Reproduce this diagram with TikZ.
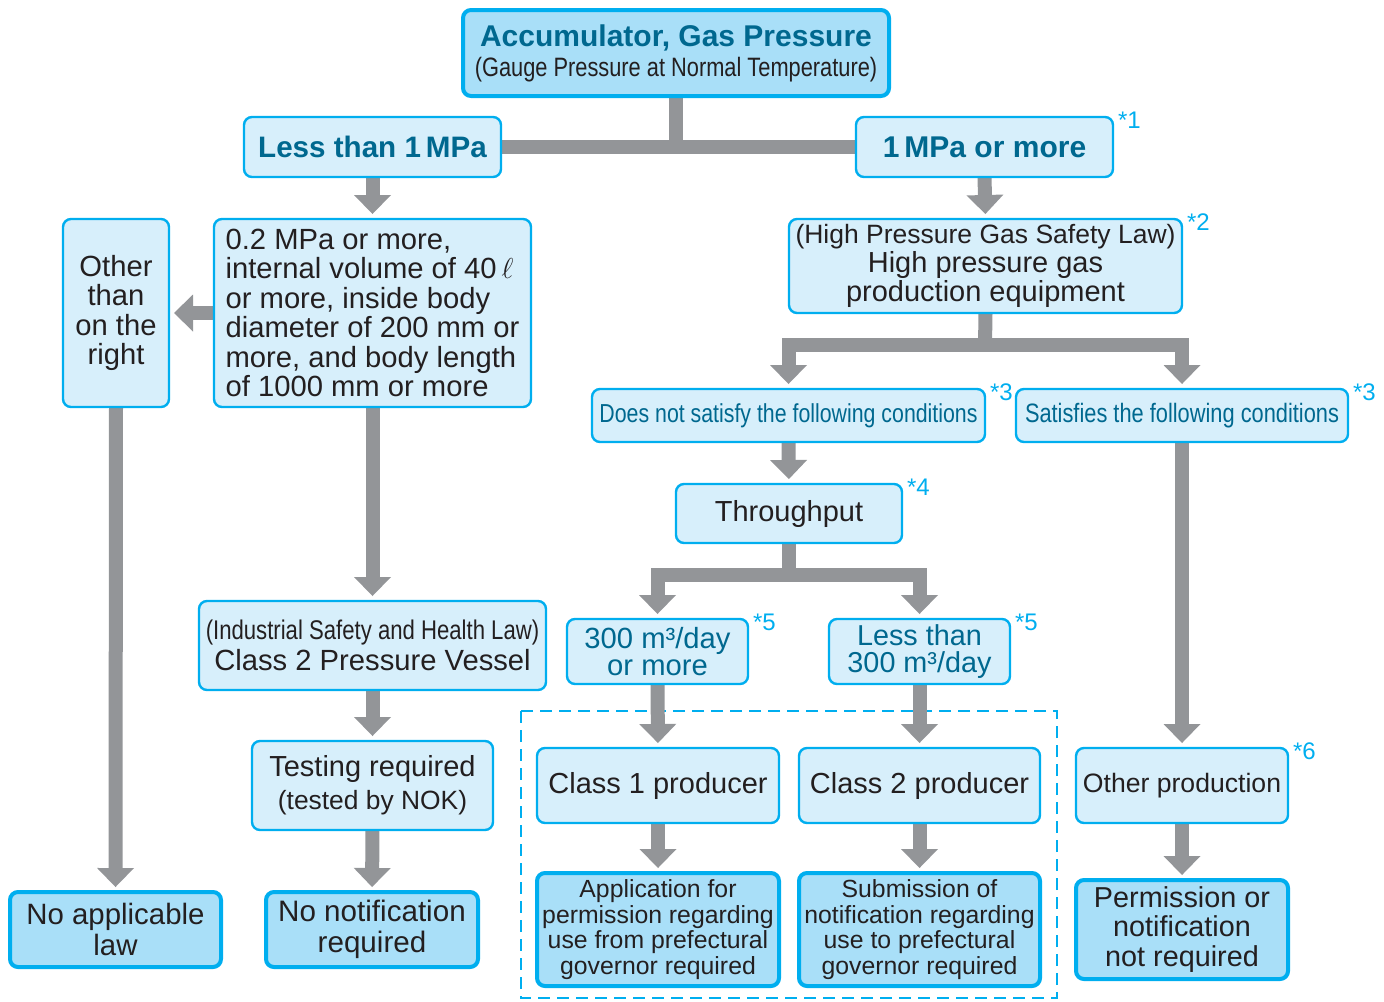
\documentclass[tikz,border=0pt]{standalone}
\usepackage{fontspec}
\setmainfont{Liberation Sans}
\newfontfamily\condfont[FakeStretch=0.82]{Liberation Sans}
\usetikzlibrary{arrows.meta,backgrounds}
\definecolor{cCyan}{HTML}{00AEEF}
\definecolor{cPale}{HTML}{D7EFFB}
\definecolor{cSky} {HTML}{A9DFF8}
\definecolor{cTeal}{HTML}{00688F}
\definecolor{cInk} {HTML}{231F20}
\definecolor{cGray}{HTML}{939598}
\tikzset{
  box/.style   ={draw=cCyan,fill=cPale,line width=1.2pt,rounded corners=4pt,
                 inner sep=0pt,align=center,text=cInk,
                 font=\fontsize{14.6}{14.7}\selectfont},
  endbox/.style={box,fill=cSky,line width=2pt},
  key/.style   ={text=cTeal},
  star/.style  ={text=cCyan,font=\fontsize{12}{12}\selectfont,inner sep=0pt,
                 anchor=north west},
  go/.style    ={draw=cGray,line width=7pt,shorten >=2.5pt,
                 -{Triangle[length=9.5pt,width=18.5pt,line width=0pt]}},
  bar/.style   ={draw=cGray,line width=7pt},
  grp/.style   ={draw=cCyan,line width=1pt,dash pattern=on 6pt off 3.5pt},
}

\begin{document}
\begin{tikzpicture}[x=0.5pt,y=0.5pt,every node/.style={outer sep=0pt}]
\useasboundingbox (0,0) rectangle (1384,-1001);

\node[endbox,minimum width=213pt,minimum height=43pt,font=\condfont\fontsize{13.3}{15}\selectfont]
  (acc) at (676,-53)
  {{\rmfamily\fontsize{15}{15}\selectfont\bfseries\color{cTeal}Accumulator, Gas Pressure}\\
   (Gauge Pressure at Normal Temperature)};

\node[box,key,minimum width=128.5pt,minimum height=30pt,font=\fontsize{14.8}{15}\selectfont\bfseries]
  (lt1) at (372.5,-147) {Less than 1\,MPa};
\node[box,key,minimum width=128.5pt,minimum height=30pt,font=\fontsize{15}{15}\selectfont\bfseries]
  (ge1) at (984.5,-147) {1\,MPa or more};
\node[star] (s1) at ([shift={(2.5pt,2.5pt)}]ge1.north east) {*1};

% left branch: pressure vessel rules
\node[box,minimum width=53pt,minimum height=94pt] (oth) at (116,-313)
  {Other\\than\\on the\\right};
\node[box,align=left,minimum width=158.5pt,minimum height=94pt] (cnd) at (372.5,-313)
  {0.2 MPa or more,\\internal volume of 40\,$\ell$\\or more, inside body\\
   diameter of 200 mm or\\more, and body length\\of 1000 mm or more};
\node[box,minimum width=173.5pt,minimum height=44.5pt,font=\fontsize{14.6}{15.5}\selectfont]
  (isl) at (372.5,-645.5)
  {{\condfont\fontsize{13.5}{15}\selectfont(Industrial Safety and Health Law)}\\
   Class 2 Pressure Vessel};
\node[box,minimum width=120.5pt,minimum height=44.5pt,font=\fontsize{14.5}{16.5}\selectfont]
  (tst) at (372.5,-785.5)
  {Testing required\\{\fontsize{13.2}{14}\selectfont(tested by NOK)}};
\node[endbox,minimum width=106pt,minimum height=37.5pt,font=\fontsize{14.8}{15.5}\selectfont]
  (nonote) at (372,-929.5) {No notification\\required};
\node[endbox,minimum width=105.5pt,minimum height=37.5pt,font=\fontsize{14.7}{15.5}\selectfont]
  (nolaw) at (115.5,-929.5) {No applicable\\law};

% right branch: high pressure gas rules
\node[box,minimum width=196.5pt,minimum height=47pt,font=\fontsize{14.5}{14.5}\selectfont]
  (hpg) at (985.5,-266)
  {{\fontsize{13.25}{14}\selectfont(High Pressure Gas Safety Law)}\\
   High pressure gas\\production equipment};
\node[star] (s2) at ([shift={(2.5pt,2.5pt)}]hpg.north east) {*2};
\node[box,key,minimum width=196.5pt,minimum height=26.5pt,font=\condfont\fontsize{13}{14}\selectfont]
  (dns) at (788.5,-415.5) {Does not satisfy the following conditions};
\node[star] (s3a) at ([shift={(2.5pt,2.5pt)}]dns.north east) {*3};
\node[box,key,minimum width=166pt,minimum height=26.5pt,font=\condfont\fontsize{13.3}{14}\selectfont]
  (sat) at (1182,-415.5) {Satisfies the following conditions};
\node[star] (s3b) at ([shift={(2.5pt,2.5pt)}]sat.north east) {*3};
\node[box,minimum width=113pt,minimum height=29.5pt,font=\fontsize{14.5}{15}\selectfont]
  (thr) at (789,-513.5) {Throughput};
\node[star] (s4) at ([shift={(2.5pt,2.5pt)}]thr.north east) {*4};
\node[box,key,minimum width=90.5pt,minimum height=32.5pt,font=\fontsize{14.6}{13.5}\selectfont]
  (hi) at (657.5,-651.5) {300 m³/day\\or more};
\node[star] (s5a) at ([shift={(2.5pt,2.5pt)}]hi.north east) {*5};
\node[box,key,minimum width=90.5pt,minimum height=32.5pt,font=\fontsize{14.4}{13.5}\selectfont]
  (lo) at (919.5,-651.5) {Less than\\300 m³/day};
\node[star] (s5b) at ([shift={(2.5pt,2.5pt)}]lo.north east) {*5};
\node[box,minimum width=121pt,minimum height=37.5pt,font=\fontsize{14.5}{15}\selectfont]
  (cl1) at (658,-785.5) {Class 1 producer};
\node[box,minimum width=120.5pt,minimum height=37.5pt,font=\fontsize{14.5}{15}\selectfont]
  (cl2) at (919.5,-785.5) {Class 2 producer};
\node[endbox,minimum width=121pt,minimum height=56.5pt,font=\fontsize{12.4}{12.85}\selectfont]
  (app) at (658,-929.5)
  {Application for\\permission regarding\\use from prefectural\\governor required};
\node[endbox,minimum width=120.5pt,minimum height=56.5pt,font=\fontsize{12.4}{12.85}\selectfont]
  (sub) at (919.5,-929.5)
  {Submission of\\notification regarding\\use to prefectural\\governor required};
\node[box,minimum width=106pt,minimum height=37.5pt,font=\fontsize{13.3}{15}\selectfont]
  (othp) at (1182,-785.5) {Other production};
\node[star] (s6) at ([shift={(2.5pt,2.5pt)}]othp.north east) {*6};
\node[endbox,minimum width=106pt,minimum height=49.5pt,font=\fontsize{14.4}{14.75}\selectfont]
  (perm) at (1182,-929.5) {Permission or\\notification\\not required};

\coordinate (top) at (acc.south |- lt1.east);
\coordinate (hs) at (985,-345);
\coordinate (ts) at (789,-575);

\begin{scope}[on background layer]
% producer classes framed together
\draw[grp] (521,-711) rectangle (1057,-998);
% first split on pressure
\draw[bar] (acc.south) -- (top);
\draw[bar] (lt1.east) -- (ge1.west);
\draw[go] (lt1.south) -- (cnd.north);
\draw[go] (cnd.west) -- (oth.east);
\draw[go] (oth.south) -- (nolaw.north);
\draw[go] (cnd.south) -- (isl.north);
\draw[go] (isl.south) -- (tst.north);
\draw[go] (tst.south) -- (nonote.north);
\draw[go] (ge1.south) -- (hpg.north);
% conditions fork
\draw[bar] (hpg.south) -- (hs);
\draw[go] (hs) -| (dns.north);
\draw[go] (hs) -| (sat.north);
\draw[go] (dns.south) -- (thr.north);
% throughput fork
\draw[bar] (thr.south) -- (ts);
\draw[go] (ts) -| (hi.north);
\draw[go] (ts) -| (lo.north);
\draw[go] (hi.south) -- (cl1.north);
\draw[go] (lo.south) -- (cl2.north);
\draw[go] (cl1.south) -- (app.north);
\draw[go] (cl2.south) -- (sub.north);
\draw[go] (sat.south) -- (othp.north);
\draw[go] (othp.south) -- (perm.north);
\end{scope}
\end{tikzpicture}
\end{document}
